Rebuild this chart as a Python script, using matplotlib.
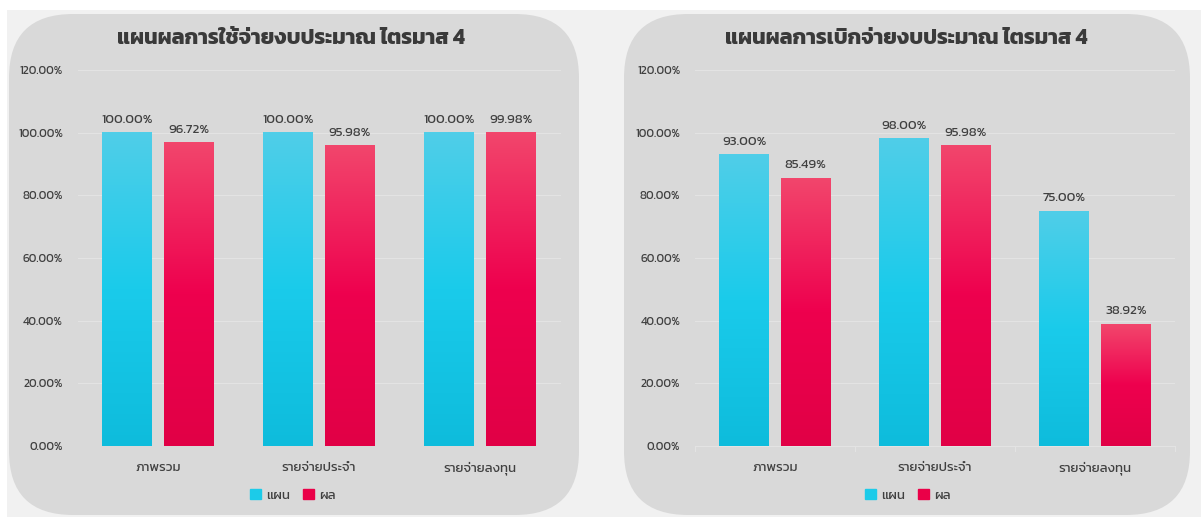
import numpy as np
import matplotlib
matplotlib.use("Agg")
import matplotlib.pyplot as plt
from matplotlib import font_manager as fm
from matplotlib.ft2font import FT2Font
from matplotlib.colors import LinearSegmentedColormap
from matplotlib.patches import FancyBboxPatch, Rectangle
from matplotlib.transforms import IdentityTransform, blended_transform_factory

categories = ["ภาพรวม", "รายจ่ายประจำ", "รายจ่ายลงทุน"]
series_names = ["แผน", "ผล"]
titles = ["แผนผลการใช้จ่ายงบประมาณ ไตรมาส 4", "แผนผลการเบิกจ่ายงบประมาณ ไตรมาส 4"]
spend_plan = [100.00, 100.00, 100.00]
spend_result = [96.72, 95.98, 99.98]
disburse_plan = [93.00, 98.00, 75.00]
disburse_result = [85.49, 95.98, 38.92]
yticks = [0, 20, 40, 60, 80, 100, 120]


def find_thai_font():
    # look for any installed font that can draw Thai
    found = []
    for f in fm.fontManager.ttflist:
        try:
            cmap = FT2Font(f.fname).get_charmap()
        except Exception:
            continue
        if 0x0E1C in cmap and 0x0E33 in cmap:
            found.append(f.name)
    pref = ["Kanit", "Prompt", "Sarabun", "Noto Sans Thai", "Noto Sans Thai UI", "Loma", "Garuda", "Waree", "Umpush"]
    for p in pref:
        if p in found:
            return p
    return found[0] if found else None


thai = find_thai_font()
fams = [thai, "DejaVu Sans"] if thai else ["DejaVu Sans"]
plt.rcParams["font.family"] = fams

W, H = 1201, 517
fig = plt.figure(figsize=(W / 100, H / 100), dpi=100)
fig.patch.set_facecolor("white")

# light grey backdrop and the two rounded panels (pixel coords)
fig.patches.append(Rectangle((7, 0), W - 7, H - 10, transform=IdentityTransform(),
                             facecolor="#f1f1f1", edgecolor="none", zorder=-3))
R = 64
for x0, x1 in [(9, 579), (624, 1190)]:
    fig.patches.append(FancyBboxPatch((x0 + R, 2 + R), (x1 - x0) - 2 * R, (H - 14 - 2) - 2 * R,
                                      boxstyle=f"round,pad={R},rounding_size={R}",
                                      transform=IdentityTransform(),
                                      facecolor="#d9d9d9", edgecolor="none", zorder=-2))

cyan_cmap = LinearSegmentedColormap.from_list("c", [(0, "#0ebcdc"), (0.5, "#1acbeb"), (1, "#50cee8")])
red_cmap = LinearSegmentedColormap.from_list("r", [(0, "#e10046"), (0.5, "#ee004e"), (1, "#f2466c")])
grad = np.linspace(0, 1, 256).reshape(-1, 1)

panels = [
    (77.5, 560.5, spend_plan, spend_result, titles[0], 291, False),
    (695, 1175, disburse_plan, disburse_result, titles[1], 906, True),
]

for left, right, plan, result, title, tx, axis_line in panels:
    ax = fig.add_axes([left / W, 71 / H, (right - left) / W, 376 / H])
    ax.set_facecolor("none")
    x = np.arange(len(categories))
    bw = 0.31
    off = 0.1925
    b1 = ax.bar(x - off, plan, bw, color="#1acbeb", zorder=2)
    b2 = ax.bar(x + off, result, bw, color="#ee004e", zorder=2)
    for bars, cm in [(b1, cyan_cmap), (b2, red_cmap)]:
        for b in bars:
            bx, bh = b.get_x(), b.get_height()
            ax.imshow(grad, extent=[bx, bx + b.get_width(), 0, bh], origin="lower",
                      aspect="auto", cmap=cm, zorder=3, interpolation="bilinear")
            b.set_visible(False)
    for bars, vals in [(b1, plan), (b2, result)]:
        for b, v in zip(bars, vals):
            ax.annotate(f"{v:.2f}%", (b.get_x() + b.get_width() / 2, v),
                        xytext=(0, 5.5), textcoords="offset points", ha="center", va="bottom",
                        fontsize=9.5, color="#404040", zorder=4)
    ax.set_xlim(-0.5, len(categories) - 0.5)
    ax.set_ylim(0, 120)
    ax.set_yticks(yticks)
    ax.set_yticklabels([f"{v:.2f}%" for v in yticks], fontsize=8.5, color="#404040")
    ax.set_xticks(x)
    ax.set_xticklabels([])
    # category names sit on a common baseline
    tr = blended_transform_factory(ax.transData, IdentityTransform())
    for xi, c in zip(x, categories):
        ax.text(xi, H - 471, c, transform=tr, ha="center", va="baseline",
                fontsize=9.5, color="#404040")
    ax.tick_params(axis="y", length=0, pad=10.5)
    ax.tick_params(axis="x", length=0)
    ax.grid(axis="y", color="#e3e3e3", linewidth=0.8, zorder=0)
    for s in ["top", "right", "left"]:
        ax.spines[s].set_visible(False)
    if axis_line:
        ax.spines["bottom"].set_color("#e3e3e3")
        ax.spines["bottom"].set_linewidth(0.8)
        for xb in np.arange(-0.5, len(categories)):
            ax.plot([xb, xb], [0, -1.5], color="#e3e3e3", lw=0.8, clip_on=False)
    else:
        ax.spines["bottom"].set_visible(False)
    ax.set_axisbelow(True)

    fig.text(tx / W, 1 - 39 / H, title, ha="center", va="center", fontsize=15.5,
             fontweight="bold", color="#3a3a3a")
    handles = [Rectangle((0, 0), 1, 1, color="#1ccbe9"), Rectangle((0, 0), 1, 1, color="#ea0048")]
    fig.legend(handles, series_names, loc="center", bbox_to_anchor=((tx + 2) / W, 1 - 495 / H),
               ncol=2, frameon=False, fontsize=9.5, handlelength=0.8, handleheight=0.8,
               handletextpad=0.4, columnspacing=1.0, labelcolor="#404040")

fig.savefig("out.png", dpi=100)
